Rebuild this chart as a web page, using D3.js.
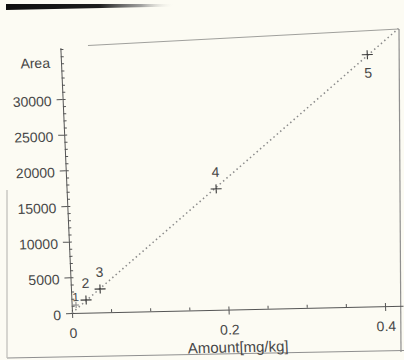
<!DOCTYPE html>
<html><head><meta charset="utf-8">
<script src="https://cdn.jsdelivr.net/npm/d3@7"></script>
<style>html,body{margin:0;padding:0;background:#fcfbf3;}svg{display:block;}</style>
</head><body>
<script>
// ---- data ----
const pointIds = ["1", "2", "3", "4", "5"];
const amounts = [0.0056, 0.0187, 0.0372, 0.191, 0.3915];
const areas = [1100, 1780, 3280, 16940, 35270];
const fitAmounts = [0, 0.4326];
const fitAreas = [0, 38820];
const xTickValues = [0, 0.2, 0.4];
const xTickLabels = ["0", "0.2", "0.4"];
const yTickValues = [0, 5000, 10000, 15000, 20000, 25000, 30000];
const yTickLabels = ["0", "5000", "10000", "15000", "20000", "25000", "30000"];
const xTitle = "Amount[mg/kg]";
const yTitle = "Area";

// ---- layout ----
const W = 404, H = 360;
const px = 72, py = 313;          // axis origin
const shearB = -0.022, shearC = 0.044; // scan skew
const ink = "#474747";
const font = "'Liberation Sans', Arial, sans-serif";

const svg = d3.select("body").append("svg").attr("width", W).attr("height", H);
svg.append("rect").attr("width", W).attr("height", H).attr("fill", "#fcfbf3");

// scan artifact bar at the top
const defs = svg.append("defs");
const grad = defs.append("linearGradient").attr("id", "bar")
  .attr("gradientUnits", "userSpaceOnUse").attr("x1", 6).attr("x2", 175).attr("y1", 0).attr("y2", 0);
[[0, "#0e0e0e", 1], [0.55, "#1c1c1c", 1], [0.8, "#8a8a8a", 0.8], [1, "#fcfbf3", 0]].forEach(s =>
  grad.append("stop").attr("offset", s[0]).attr("stop-color", s[1]).attr("stop-opacity", s[2]));
svg.append("polygon").attr("points", "6,4 175,4 175,6.5 6,10").attr("fill", "url(#bar)");

// frame (scanned, slightly distorted)
const frame = svg.append("g").attr("stroke", "#8f8f8f").attr("stroke-width", 1.2).attr("fill", "none");
frame.append("path").attr("d", "M88,45.5L399,29").attr("stroke", "#a0a09c");
frame.append("path").attr("d", "M399,29L401,352");
frame.append("path").attr("d", "M7,358L404,350.5");
frame.append("path").attr("d", "M7,190L7,358").attr("stroke", "#bdbdb8");

const g = svg.append("g")
  .attr("transform", `matrix(1,${shearB},${shearC},1,${-shearC * py},${-shearB * px})`);

const x = d3.scaleLinear().domain([0, 0.423]).range([px, px + 331]);
const yPerUnit = 214 / 30000;
const y = d3.scaleLinear().domain([0, 37200]).range([py, py - 37200 * yPerUnit]);

function styleAxis(sel, size) {
  sel.attr("font-family", font).attr("font-size", size);
  sel.selectAll("path,line").attr("stroke", "#555").attr("stroke-width", 1);
  sel.selectAll("text").attr("fill", ink);
}

// y minor ticks
const yMinor = g.append("g").attr("transform", `translate(${px},0)`)
  .call(d3.axisLeft(y).tickValues(d3.range(0, 37001, 1000)).tickSize(-3).tickFormat(""));
yMinor.select(".domain").remove();
styleAxis(yMinor, 14);

// y axis
const yAxis = g.append("g").attr("transform", `translate(${px},0)`)
  .call(d3.axisLeft(y).tickValues(yTickValues).tickFormat((d, i) => yTickLabels[i])
    .tickSize(6).tickPadding(5).tickSizeOuter(0));
styleAxis(yAxis, 14);
yAxis.selectAll("text").attr("dy", "0.45em");

g.append("text").attr("x", px - 11).attr("y", y(35300)).attr("dy", "0.45em")
  .attr("text-anchor", "end").attr("font-family", font).attr("font-size", 14).attr("fill", ink)
  .text(yTitle);

// x minor ticks
const xMinor = g.append("g").attr("transform", `translate(0,${py})`)
  .call(d3.axisBottom(x).tickValues(d3.range(0, 0.4001, 0.05)).tickSize(-3).tickFormat(""));
xMinor.select(".domain").remove();
styleAxis(xMinor, 14);

// x axis
const xAxis = g.append("g").attr("transform", `translate(0,${py})`)
  .call(d3.axisBottom(x).tickValues(xTickValues).tickFormat((d, i) => xTickLabels[i])
    .tickSize(5).tickPadding(10).tickSizeOuter(0));
styleAxis(xAxis, 14);

g.append("text").attr("x", px + 164.5).attr("y", py + 43)
  .attr("text-anchor", "middle").attr("font-family", font).attr("font-size", 15).attr("fill", ink)
  .text(xTitle);

// calibration line
const fit = fitAmounts.map((a, i) => [a, fitAreas[i]]);
g.append("path").datum(fit)
  .attr("d", d3.line().x(d => x(d[0])).y(d => y(d[1])))
  .attr("fill", "none").attr("stroke", "#8a8a8a").attr("stroke-width", 1.5)
  .attr("stroke-dasharray", "1.5,3");

// points
const pts = amounts.map((a, i) => ({ id: pointIds[i], a, v: areas[i] }));
const pg = g.append("g").selectAll("g").data(pts).join("g")
  .attr("transform", d => `translate(${x(d.a)},${y(d.v)})`);
pg.append("path").attr("d", (d, i) => i === 0 ? "M-3,0H3M0,-3V3" : "M-5.5,0H5.5M0,-4.5V4.5")
  .attr("stroke", (d, i) => i === 0 ? "#8a8a8a" : "#3a3a3a").attr("stroke-width", 1.1).attr("fill", "none");
pg.append("text")
  .attr("y", (d, i) => i === pts.length - 1 ? 23 : (i === 0 ? -4 : -12))
  .attr("text-anchor", "middle").attr("font-family", font)
  .attr("font-size", (d, i) => i === 0 ? 12 : 14).attr("fill", ink)
  .text(d => d.id);
</script>
</body></html>
